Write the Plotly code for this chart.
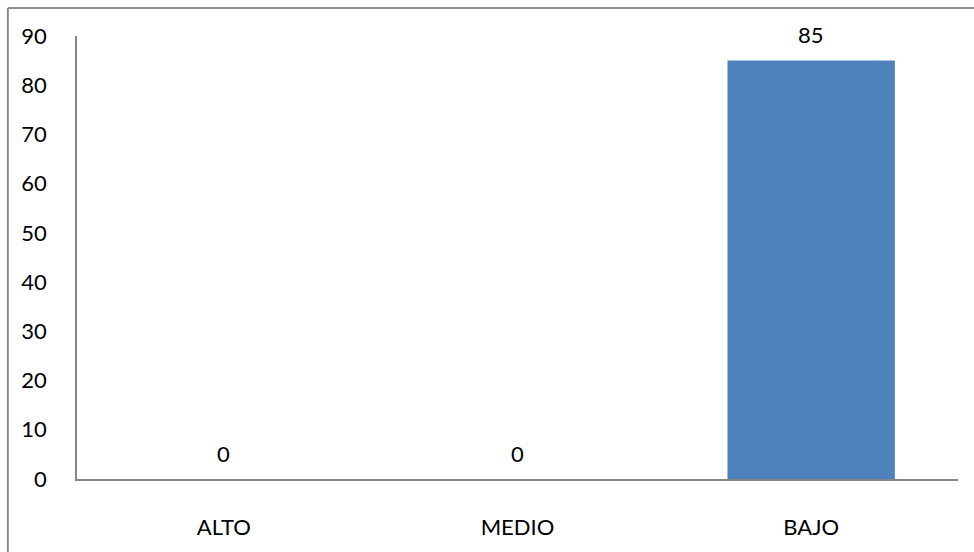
import plotly.graph_objects as go

categories = ["ALTO", "MEDIO", "BAJO"]
values = [0, 0, 85]
y_ticks = [0, 10, 20, 30, 40, 50, 60, 70, 80, 90]

font_family = "Lato, Open Sans, sans-serif"
fs = 22

fig = go.Figure()
fig.add_trace(go.Bar(
    x=categories, y=values,
    marker=dict(color="#4F81BD", line=dict(width=0)),
    width=0.57,
    hoverinfo="skip",
))

for c, v in zip(categories, values):
    fig.add_annotation(x=c, y=v, text=str(v), showarrow=False,
                       yshift=26, font=dict(size=fs, color="#000000", family=font_family))

fig.update_layout(
    width=974, height=552,
    margin=dict(l=77, r=16, t=36, b=69),
    paper_bgcolor="white", plot_bgcolor="white",
    showlegend=False,
    font=dict(family=font_family, size=fs, color="#000000"),
)
fig.update_yaxes(
    range=[0, 90], tickvals=y_ticks, showgrid=False, zeroline=False,
    showline=True, linecolor="#868686", linewidth=1.5,
    ticks="", ticklabelstandoff=24,
    tickfont=dict(size=fs, family=font_family, color="#000000"),
)
fig.update_xaxes(
    showgrid=False, zeroline=False, showline=True, linecolor="#868686", linewidth=1.5,
    ticks="", ticklabelstandoff=28,
    tickfont=dict(size=fs, family=font_family, color="#000000"),
)
# outer chart border (top and left visible)
fig.add_shape(type="line", xref="paper", yref="paper", x0=-0.0785, x1=1.1, y0=1.063, y1=1.063,
              line=dict(color="#8C8C8C", width=2))
fig.add_shape(type="line", xref="paper", yref="paper", x0=-0.0785, x1=-0.0785, y0=-0.2, y1=1.063,
              line=dict(color="#8C8C8C", width=2))

fig.write_html("out.html")
